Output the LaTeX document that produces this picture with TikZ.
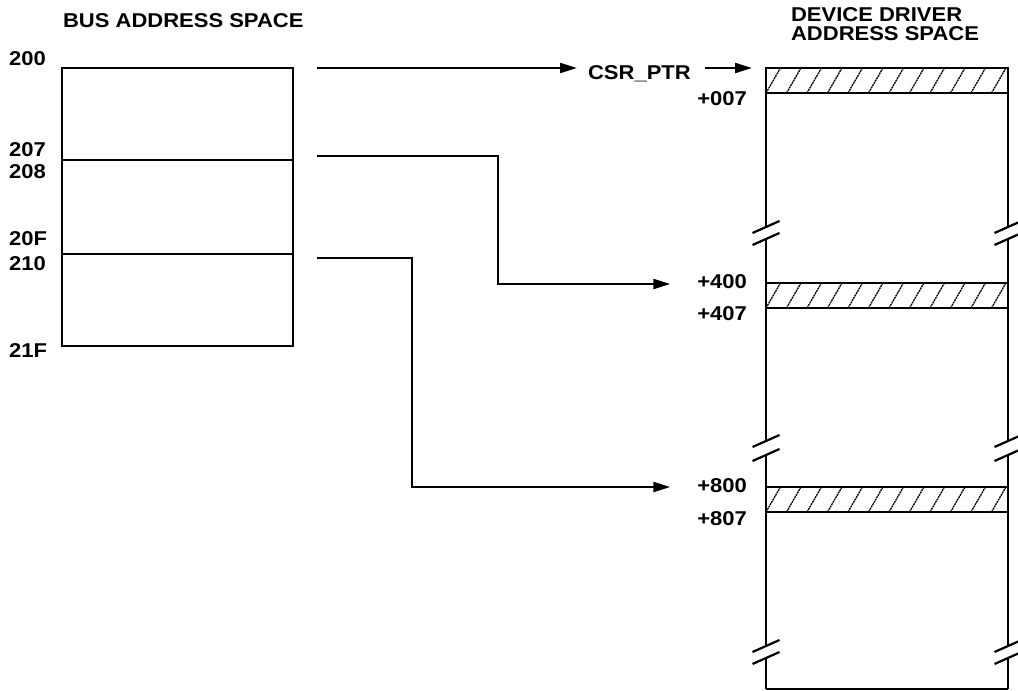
\documentclass[tikz,border=0pt]{standalone}
\usepackage{fontspec}
\setmainfont{Liberation Sans}[FakeStretch=1.1]
\usetikzlibrary{arrows.meta}
\begin{document}
\begin{tikzpicture}[x=1pt,y=-1pt,line width=2.2pt,
  lbl/.style={font=\fontsize{20}{23}\selectfont\bfseries,inner sep=0pt},
  blk/.style={draw,line width=2.2pt,inner sep=0pt,outer sep=0pt,anchor=north west,minimum width=231pt},
  band/.style={draw,line width=2.2pt,inner sep=0pt,outer sep=0pt,anchor=north west,
    minimum width=242pt,minimum height=25pt,
    path picture={\foreach \i in {-1,...,12}
      \draw[line width=1.3pt,dash pattern=on 2pt off 0.7pt]
        ([xshift=\i*20.5pt]path picture bounding box.south west) -- ++(15,-26);}},
  conn/.style={-{Triangle[length=17pt,width=10pt]},line width=2.2pt},
  edge/.style={line width=2.2pt},
  slash/.style={line width=2.2pt}]
\useasboundingbox (0,0) rectangle (1018,691);

% titles
\node[lbl,anchor=base west] (tbus) at (62,27) {BUS ADDRESS SPACE};
\node[lbl,anchor=base west] (tdev1) at (790,21) {DEVICE DRIVER};
\node[lbl,anchor=base west] (tdev2) at (790,40) {ADDRESS SPACE};

% bus address space box
\node[blk,minimum height=92pt] (b0) at (62,68) {};
\node[blk,minimum height=94pt] (b1) at (62,160) {};
\node[blk,minimum height=92pt] (b2) at (62,254) {};

\node[lbl,anchor=base west] (a200) at (8,65) {200};
\node[lbl,anchor=base west] (a207) at (8,156) {207};
\node[lbl,anchor=base west] (a208) at (8,178) {208};
\node[lbl,anchor=base west] (a20F) at (8,245) {20F};
\node[lbl,anchor=base west] (a210) at (8,270) {210};
\node[lbl,anchor=base west] (a21F) at (8,357) {21F};

% device driver address space
\node[band] (d0) at (766,68) {};
\node[band] (d1) at (766,283) {};
\node[band] (d2) at (766,487) {};

\node[lbl,anchor=base east] (o007) at (748,105) {+007};
\node[lbl,anchor=base east] (o400) at (748,288) {+400};
\node[lbl,anchor=base east] (o407) at (748,320) {+407};
\node[lbl,anchor=base east] (o800) at (748,492) {+800};
\node[lbl,anchor=base east] (o807) at (748,525) {+807};

\node[lbl,anchor=base west] (csr) at (587,79) {CSR\_PTR};

% outline with breaks
\coordinate (bl) at (766,689);
\coordinate (br) at (1008,689);
\draw[edge] (bl) -- (br);
\foreach \x in {766,1008}{
  \draw[edge] (\x,93) -- (\x,227);
  \draw[edge] (\x,239) -- (\x,283);
  \draw[edge] (\x,308) -- (\x,441);
  \draw[edge] (\x,455) -- (\x,487);
  \draw[edge] (\x,513) -- (\x,646);
  \draw[edge] (\x,658) -- (\x,689);
  \foreach \y in {227,239,441,455,646,658}
    \draw[slash] (\x-13.5,\y+6) -- (\x+13.5,\y-6);
}

% connectors
\coordinate (s0) at (317,68);
\coordinate (s1) at (317,156);
\coordinate (s2) at (317,258);
\coordinate (k1) at (498,284);
\coordinate (k2) at (412,487);
\draw[conn] (s0) -- ([xshift=-10pt]csr.west |- s0);
\draw[conn] ([xshift=13pt]csr.east |- s0) -- ([xshift=-14pt]d0.north west);
\draw[conn] (s1) -| (k1) -- ([xshift=-26pt]o400.west |- k1);
\draw[conn] (s2) -| (k2) -- ([xshift=-26pt]o800.west |- k2);
\end{tikzpicture}
\end{document}
